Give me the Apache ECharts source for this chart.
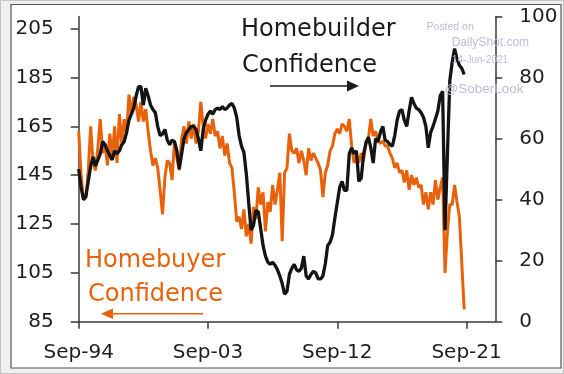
<!DOCTYPE html>
<html>
<head>
<meta charset="utf-8">
<script src="https://cdn.jsdelivr.net/npm/echarts@6/dist/echarts.min.js"></script>
<style>
html,body{margin:0;padding:0;background:#f0f0f0;}
#chart{width:564px;height:374px;}
</style>
</head>
<body>
<div id="chart"></div>
<script>
// months since Sep-1994, one value every 2 months
const stepMonths = 2;
// Homebuilder confidence (right axis, 0-100)
const homebuilder = [
50,44,40,41,46,51,54,51,53,55,
59,58,56,54.5,53,56,55,56,58,59,
62,66,68,70,74,77,77,71,76.5,74,
71,69.5,68.5,64,61,61.5,63,59.5,58,59.5,
59,56,50,55,60,62,63,64,64,63,
60,56,63,66,68,69,68,69.5,70,69.5,
70.5,69.5,70,71,71.5,70,67,61,57.5,55.5,
48.5,39,30,31.5,36.5,36,30.5,25,21.5,19.5,
18.8,19.5,18.5,17,15,12.5,9,10,15.5,17.5,
18.8,17,16.5,17.5,21.5,15,14,15.5,16.5,16,
14,14,15,19,25,26,28.5,34,39,44,
46,43,43,55,57,55,56,46,47,55,
58.5,60.5,57,52,60,59,62,64,59.5,59,
58,57.5,61,66,69,69.5,66,64,69,73.5,
71.5,70,69.5,68.5,67,64,57,62,64,66.5,
69,74,75.5,30,55,79,85,89.5,86,84,
83,81
];
// Homebuyer confidence (left axis, 85-205)
const homebuyer = [
163,145,135,136,147,165,150,147,156,168,
154,158,149,162,152,165,150,170,158,168,
162,178,170,177,174,167,175,167,172,163,
155,149,152,148,139,129,144,151,150,143,
159,152,147,160,165,158,167,160,166,158,
163,175,165,160,166,162,168,161,163,156,
161,153,158,150,148,138,126,128,123,131,
120,125,117,132,127,140,133,138,122,134,
130,141,133,139,146,118,146,148,162,155,
154,156,150,155,151,145,156,151,154,152,
150,147,136,146,149,155,157,162,164,162,
166,165,163,168,157,150,153,150,154,151,
159,160,168,161,163,159,158,159,157,157,
154,152,148,150,146,147,142,147,139,145,
141,144,140,141,133,138,131,138,133,143,
135,140,144,105,122,133,133,141,134,128,
109,90
];
const xTickMonths = [0,108,216,324];
const xTickLabels = ['Sep-94','Sep-03','Sep-12','Sep-21'];
const leftTicks = [85,105,125,145,165,185,205];
const rightTicks = [0,20,40,60,80,100];

const axisColor = '#3a3a3a';
const labelFont = {fontFamily:'DejaVu Sans', fontSize:20, color:'#1e1e1e'};

const chart = echarts.init(document.getElementById('chart'), null, {renderer:'canvas'});
chart.setOption({
  animation:false,
  backgroundColor:'transparent',
  grid:{left:78.7, right:68.7, top:16.5, bottom:52.3, outerBoundsMode:'none', containLabel:false},
  xAxis:{
    type:'value', min:0, max:348,
    axisLine:{show:true, onZero:false, lineStyle:{color:axisColor, width:1.5}},
    axisTick:{show:true, customValues:xTickMonths, length:7, inside:false, lineStyle:{color:axisColor, width:1.5}},
    axisLabel:Object.assign({show:true, customValues:xTickMonths, margin:21,
      formatter:(v)=>{const i=xTickMonths.indexOf(v);return i>=0?xTickLabels[i]:'';}}, labelFont),
    splitLine:{show:false}
  },
  yAxis:[
    {type:'value', position:'left', min:85, max:210,
     axisLine:{show:true, lineStyle:{color:axisColor, width:1.5}},
     axisTick:{show:true, customValues:leftTicks, length:8, inside:false, lineStyle:{color:axisColor, width:1.5}},
     axisLabel:Object.assign({show:true, customValues:leftTicks, margin:25}, labelFont),
     splitLine:{show:false}},
    {type:'value', position:'right', min:0, max:100,
     axisLine:{show:true, lineStyle:{color:axisColor, width:1.5}},
     axisTick:{show:true, customValues:rightTicks, length:7, inside:false, lineStyle:{color:axisColor, width:1.5}},
     axisLabel:Object.assign({show:true, customValues:rightTicks, margin:24}, labelFont),
     splitLine:{show:false}}
  ],
  series:[
    {type:'line', name:'Homebuyer Confidence', yAxisIndex:0, showSymbol:false, symbol:'none',
     data:homebuyer.map((v,i)=>[i*stepMonths, v]),
     lineStyle:{color:'#E8620C', width:3}, itemStyle:{color:'#E8620C'}, z:2},
    {type:'line', name:'Homebuilder Confidence', yAxisIndex:1, showSymbol:false, symbol:'none',
     data:homebuilder.map((v,i)=>[i*stepMonths, v]),
     lineStyle:{color:'#141414', width:3.3}, itemStyle:{color:'#141414'}, z:3}
  ],
  graphic:[
    {type:'rect', z:-10, silent:true, shape:{x:0.5,y:0.5,width:563,height:373}, style:{fill:'#f0f0f0', stroke:'#c4c4c4', lineWidth:1}},
    {type:'rect', z:-9, silent:true, shape:{x:11,y:4.5,width:550,height:363.5}, style:{fill:'#ffffff', stroke:'#555555', lineWidth:1.2}},
    {type:'text', z:5, style:{x:241, y:29.5, text:'Homebuilder', font:'24px "DejaVu Sans"', fill:'#1a1a1a', textAlign:'left', textVerticalAlign:'middle'}},
    {type:'text', z:5, style:{x:242, y:65.5, text:'Confidence', font:'24px "DejaVu Sans"', fill:'#1a1a1a', textAlign:'left', textVerticalAlign:'middle'}},
    {type:'line', z:5, shape:{x1:270,y1:86,x2:350,y2:86}, style:{stroke:'#1a1a1a', lineWidth:1.5}},
    {type:'polygon', z:5, shape:{points:[[359,86],[347,80.5],[347,91.5]]}, style:{fill:'#1a1a1a'}},
    {type:'text', z:5, style:{x:85, y:260.8, text:'Homebuyer', font:'24px "DejaVu Sans"', fill:'#E8620C', textAlign:'left', textVerticalAlign:'middle'}},
    {type:'text', z:5, style:{x:88, y:294.8, text:'Confidence', font:'24px "DejaVu Sans"', fill:'#E8620C', textAlign:'left', textVerticalAlign:'middle'}},
    {type:'line', z:5, shape:{x1:110,y1:313.7,x2:203,y2:313.7}, style:{stroke:'#E8620C', lineWidth:1.5}},
    {type:'polygon', z:5, shape:{points:[[100.7,313.7],[113,308.5],[113,319]]}, style:{fill:'#E8620C'}},
    {type:'text', z:6, style:{x:426.5, y:26.8, text:'Posted on', font:'10.5px "Liberation Sans"', fill:'#bcbcd8', textAlign:'left', textVerticalAlign:'middle'}},
    {type:'text', z:6, style:{x:451.7, y:43, text:'DailyShot.com', font:'12px "Liberation Sans"', fill:'#bcbcd8', textAlign:'left', textVerticalAlign:'middle'}},
    {type:'text', z:6, style:{x:452, y:60.3, text:'14-Jun-2021', font:'10px "Liberation Sans"', fill:'#bcbcd8', textAlign:'left', textVerticalAlign:'middle'}},
    {type:'text', z:6, style:{x:444.5, y:89, text:'@SoberLook', font:'13.5px "Liberation Sans"', fill:'#bcbcd8', textAlign:'left', textVerticalAlign:'middle'}}
  ]
});
</script>
</body>
</html>
